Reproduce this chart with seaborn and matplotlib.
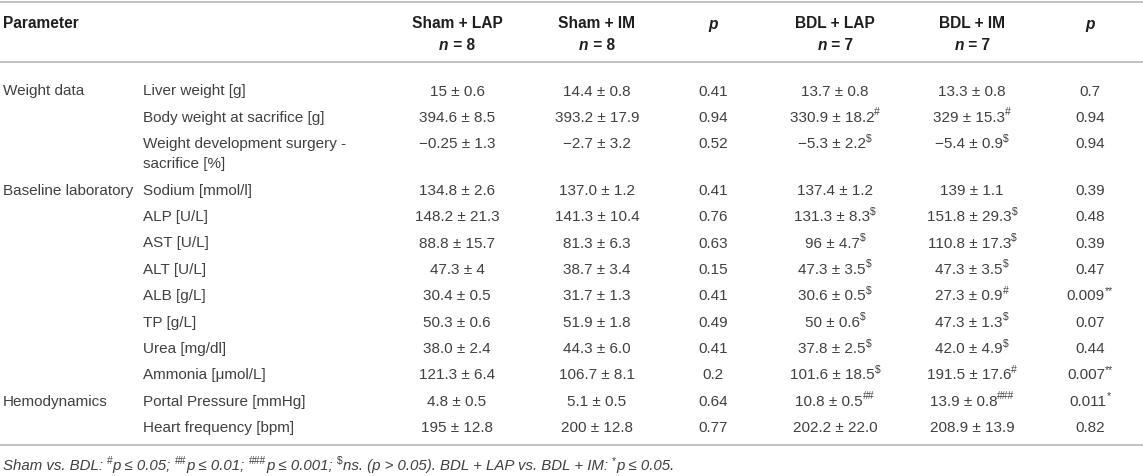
import matplotlib
matplotlib.use("Agg")
import matplotlib.pyplot as plt
import seaborn as sns
import numpy as np
import pandas as pd

# ---------------- data ----------------
groups = ["Weight data", "Baseline laboratory", "Hemodynamics"]
group_sizes = [3, 8, 2]
parameters = ["Liver weight [g]", "Body weight at sacrifice [g]",
              "Weight development surgery -\nsacrifice [%]", "Sodium [mmol/l]",
              "ALP [U/L]", "AST [U/L]", "ALT [U/L]", "ALB [g/L]", "TP [g/L]",
              "Urea [mg/dl]", "Ammonia [\u03bcmol/L]", "Portal Pressure [mmHg]",
              "Heart frequency [bpm]"]
column_titles = ["Sham + LAP", "Sham + IM", "p", "BDL + LAP", "BDL + IM", "p"]
column_n = ["8", "8", "", "7", "7", ""]

sham_lap = ["15 \u00b1 0.6", "394.6 \u00b1 8.5", "\u22120.25 \u00b1 1.3", "134.8 \u00b1 2.6",
            "148.2 \u00b1 21.3", "88.8 \u00b1 15.7", "47.3 \u00b1 4", "30.4 \u00b1 0.5",
            "50.3 \u00b1 0.6", "38.0 \u00b1 2.4", "121.3 \u00b1 6.4", "4.8 \u00b1 0.5",
            "195 \u00b1 12.8"]
sham_im = ["14.4 \u00b1 0.8", "393.2 \u00b1 17.9", "\u22122.7 \u00b1 3.2", "137.0 \u00b1 1.2",
           "141.3 \u00b1 10.4", "81.3 \u00b1 6.3", "38.7 \u00b1 3.4", "31.7 \u00b1 1.3",
           "51.9 \u00b1 1.8", "44.3 \u00b1 6.0", "106.7 \u00b1 8.1", "5.1 \u00b1 0.5",
           "200 \u00b1 12.8"]
p_sham = ["0.41", "0.94", "0.52", "0.41", "0.76", "0.63", "0.15", "0.41", "0.49",
          "0.41", "0.2", "0.64", "0.77"]
bdl_lap = ["13.7 \u00b1 0.8", "330.9 \u00b1 18.2", "\u22125.3 \u00b1 2.2", "137.4 \u00b1 1.2",
           "131.3 \u00b1 8.3", "96 \u00b1 4.7", "47.3 \u00b1 3.5", "30.6 \u00b1 0.5",
           "50 \u00b1 0.6", "37.8 \u00b1 2.5", "101.6 \u00b1 18.5", "10.8 \u00b1 0.5",
           "202.2 \u00b1 22.0"]
bdl_lap_mark = ["", "#", "$", "", "$", "$", "$", "$", "$", "$", "$", "##", ""]
bdl_im = ["13.3 \u00b1 0.8", "329 \u00b1 15.3", "\u22125.4 \u00b1 0.9", "139 \u00b1 1.1",
          "151.8 \u00b1 29.3", "110.8 \u00b1 17.3", "47.3 \u00b1 3.5", "27.3 \u00b1 0.9",
          "47.3 \u00b1 1.3", "42.0 \u00b1 4.9", "191.5 \u00b1 17.6", "13.9 \u00b1 0.8",
          "208.9 \u00b1 13.9"]
bdl_im_mark = ["", "#", "$", "", "$", "$", "$", "#", "$", "$", "#", "###", ""]
p_bdl = ["0.7", "0.94", "0.94", "0.39", "0.48", "0.39", "0.47", "0.009", "0.07",
         "0.44", "0.007", "0.011", "0.82"]
p_bdl_mark = ["", "", "", "", "", "", "", "**", "", "", "**", "*", ""]

footnote_parts = [("Sham vs. BDL: ", False), ("#", True), ("p \u2264 0.05; ", False),
                  ("##", True), ("p \u2264 0.01; ", False), ("###", True),
                  ("p \u2264 0.001; ", False), ("$", True),
                  ("ns. (p > 0.05). BDL + LAP vs. BDL + IM: ", False), ("*", True),
                  ("p \u2264 0.05.", False)]

# ---------------- style ----------------
sns.set_theme(style="white")
plt.rcParams["font.family"] = ["Liberation Sans", "DejaVu Sans"]

W, H = 1143, 477
fig = plt.figure(figsize=(W / 100, H / 100), dpi=100)
ax = fig.add_axes([0, 0, 1, 1])
ax.set_xlim(0, W)
ax.set_ylim(H, 0)
ax.axis("off")
renderer = fig.canvas.get_renderer()

BODY = 11.0
HEAD = 11.2
FOOT = 10.8
TXT = "#404040"
HTXT = "#1e1e1e"
RULE = "#b8b8b8"


def measure(s, props):
    a = ax.text(0, 0, "|" + s + "|", parse_math=False, **props)
    b = ax.text(0, 0, "||", parse_math=False, **props)
    w = a.get_window_extent(renderer).width - b.get_window_extent(renderer).width
    a.remove(); b.remove()
    return w


def draw_runs(x, y, parts, props, ha="left", sup_props=None):
    """parts: list of (text, is_superscript)"""
    items = []
    for s, sup in parts:
        p = dict(props)
        if sup:
            p["fontsize"] = props["fontsize"] * 0.68
            if sup_props:
                p.update(sup_props)
        items.append((s, sup, p, measure(s, p)))
    total = sum(it[3] for it in items)
    cx = x - total / 2 if ha == "center" else x
    for s, sup, p, w in items:
        dy = -props["fontsize"] * 100 / 72 * 0.42 if sup else 0
        ax.text(cx, y + dy, s, ha="left", va="baseline", parse_math=False, **p)
        cx += w


body_props = dict(fontsize=BODY, color=TXT)
head_props = dict(fontsize=HEAD, color=HTXT, fontweight="bold")
foot_props = dict(fontsize=FOOT, color=TXT, fontstyle="italic")

# layout
x_group, x_param = 3, 143
col_x = [457, 597, 713, 835, 972, 1090]
base_off = 5.5
row_h = 26.4
wrap_h = 20
y_first = 90

# rules
for yy in (3, 63, 446):
    ax.plot([0, W], [yy, yy], color=RULE, lw=1.2, solid_capstyle="butt")

# header
ax.text(x_group, 23 + base_off, "Parameter", ha="left", va="baseline", **head_props)
for cx, title, n in zip(col_x, column_titles, column_n):
    if title == "p":
        ax.text(cx, 23 + base_off, "p", ha="center", va="baseline",
                fontstyle="italic", **head_props)
    else:
        ax.text(cx, 23 + base_off, title, ha="center", va="baseline", **head_props)
        pi = dict(head_props, fontstyle="italic")
        wn = measure("n", pi)
        wr = measure(" = " + n, head_props)
        x0 = cx - (wn + wr) / 2
        ax.text(x0, 45 + base_off, "n", ha="left", va="baseline", **pi)
        ax.text(x0 + wn, 45 + base_off, " = " + n, ha="left", va="baseline", **head_props)

# rows
group_of_row = []
for g, s in zip(groups, group_sizes):
    group_of_row += [g] + [""] * (s - 1)

columns = [(sham_lap, [""] * len(sham_lap)), (sham_im, [""] * len(sham_im)),
           (p_sham, [""] * len(p_sham)), (bdl_lap, bdl_lap_mark),
           (bdl_im, bdl_im_mark), (p_bdl, p_bdl_mark)]

y = y_first
for i, param in enumerate(parameters):
    yb = y + base_off
    if group_of_row[i]:
        ax.text(x_group, yb, group_of_row[i], ha="left", va="baseline", **body_props)
    lines = param.split("\n")
    for k, ln in enumerate(lines):
        ax.text(x_param, yb + k * wrap_h, ln, ha="left", va="baseline", **body_props)
    for cx, (vals, marks) in zip(col_x, columns):
        parts = [(vals[i], False)]
        if marks[i]:
            parts.append((marks[i], True))
        draw_runs(cx, yb, parts, body_props, ha="center")
    y += row_h + (len(lines) - 1) * wrap_h

# footnote: italic text with superscript markers
draw_runs(3, 465 + base_off, footnote_parts, foot_props, ha="left",
          sup_props={"fontstyle": "normal"})

fig.savefig("out.png", dpi=100)
